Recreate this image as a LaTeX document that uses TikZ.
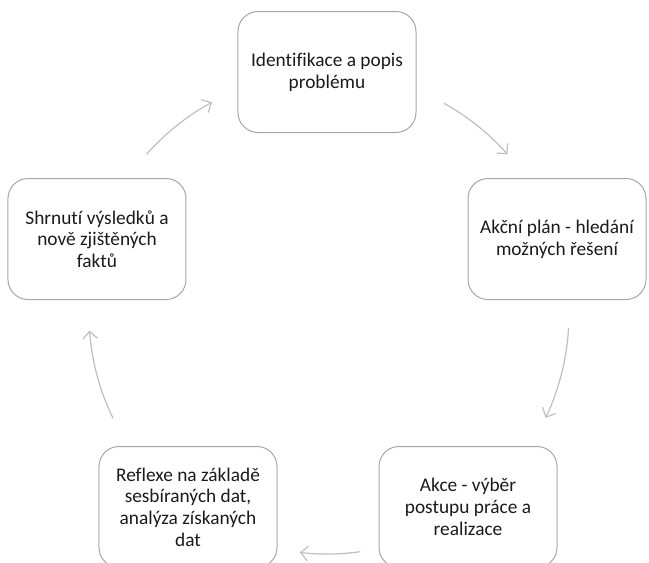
\documentclass[tikz,border=0pt]{standalone}
\usepackage{fontspec}
\setmainfont{Carlito}[Ligatures={NoCommon}]
\usetikzlibrary{arrows.meta,calc}
\definecolor{boxline}{HTML}{A6A6A6}
\definecolor{arrowline}{HTML}{BFBFBF}
\definecolor{txt}{HTML}{1A1A1A}
\begin{document}
\begin{tikzpicture}[x=0.75pt,y=0.75pt,
  stepbox/.style={draw=boxline, line width=0.75pt, rounded corners=15pt,
    minimum width=133.5pt, minimum height=90.75pt, inner sep=0pt,
    align=center, text=txt, font=\fontsize{14.5}{16.3}\selectfont},
  cyc/.style={draw=arrowline, line width=0.9pt,
    -{Straight Barb[length=5.5pt,width=11pt]}}]
\clip (-327,-248) rectangle (322,314);
\coordinate (c) at (0,0);
\node[stepbox] (top) at (0,242) {Identifikace a popis\\problému};
\node[stepbox] (right) at (230,75) {Akční plán - hledání\\možných řešení};
\node[stepbox] (br) at (141,-193) {Akce - výběr\\postupu práce a\\realizace};
\node[stepbox] (bl) at (-139,-193) {Reflexe na základě\\sesbíraných dat,\\analýza získaných\\dat};
\node[stepbox] (left) at (-230,75) {Shrnutí výsledků a\\nově zjištěných\\faktů};
\coordinate (a1) at ($(c)+(138.5:241)$);
\coordinate (a2) at ($(c)+(61:241)$);
\coordinate (a3) at ($(c)+(-3.3:242)$);
\coordinate (a4) at ($(c)+(-82:240)$);
\coordinate (a5) at ($(c)+(206:238)$);
\draw[cyc] (a1) arc[start angle=138.5, end angle=118.5, radius=241];
\draw[cyc] (a2) arc[start angle=61, end angle=41.5, radius=241];
\draw[cyc] (a3) arc[start angle=-3.3, end angle=-25.4, radius=242];
\draw[cyc] (a4) arc[start angle=-82, end angle=-96.5, radius=240];
\draw[cyc] (a5) arc[start angle=206, end angle=184, radius=238];
\end{tikzpicture}
\end{document}
